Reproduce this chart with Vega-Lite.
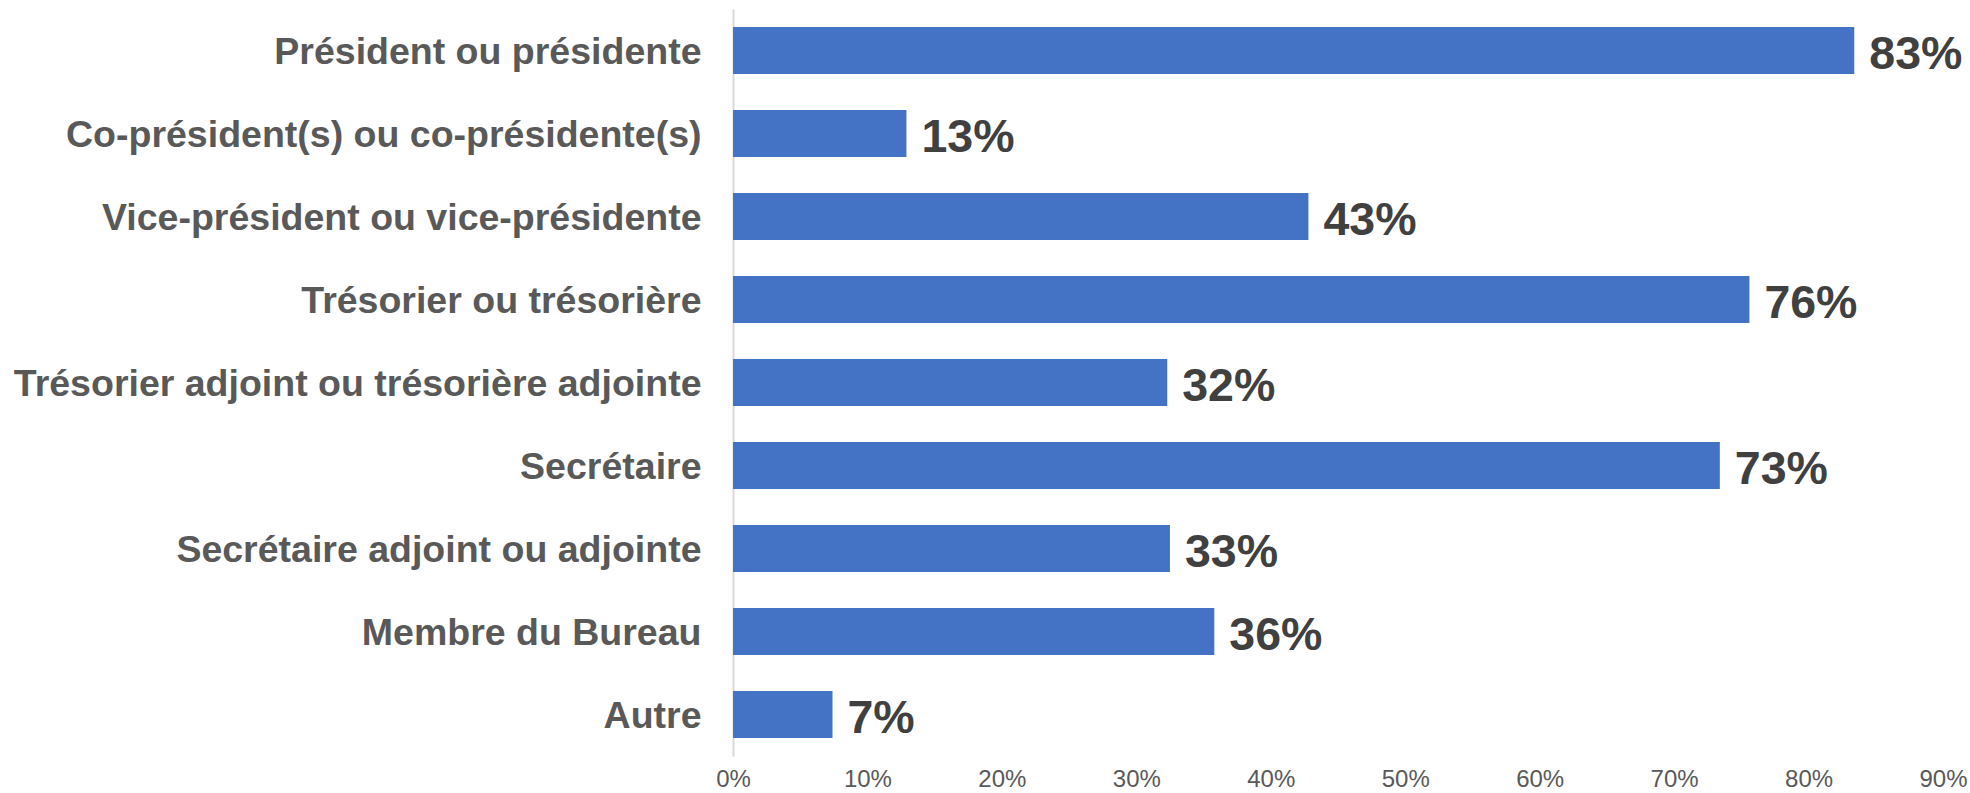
{
  "$schema": "https://vega.github.io/schema/vega-lite/v6.json",
  "width": 1210,
  "height": 747,
  "autosize": {"type": "none"},
  "padding": {"left": 733, "top": 9, "right": 27, "bottom": 37},
  "background": "white",
  "data": {
    "values": [
      {"role": "Président ou présidente", "value": 0.834, "label": "83%"},
      {"role": "Co-président(s) ou co-présidente(s)", "value": 0.129, "label": "13%"},
      {"role": "Vice-président ou vice-présidente", "value": 0.428, "label": "43%"},
      {"role": "Trésorier ou trésorière", "value": 0.756, "label": "76%"},
      {"role": "Trésorier adjoint ou trésorière adjointe", "value": 0.323, "label": "32%"},
      {"role": "Secrétaire", "value": 0.734, "label": "73%"},
      {"role": "Secrétaire adjoint ou adjointe", "value": 0.325, "label": "33%"},
      {"role": "Membre du Bureau", "value": 0.358, "label": "36%"},
      {"role": "Autre", "value": 0.074, "label": "7%"}
    ]
  },
  "config": {
    "view": {"stroke": null},
    "font": "Liberation Sans"
  },
  "encoding": {
    "y": {
      "field": "role",
      "type": "nominal",
      "sort": null,
      "scale": {"paddingInner": 0.434, "paddingOuter": 0.217},
      "axis": {
        "title": null,
        "domain": true,
        "domainColor": "#d9d9d9",
        "domainWidth": 2,
        "ticks": false,
        "labelFont": "Liberation Sans",
        "labelFontWeight": "bold",
        "labelFontSize": 37.5,
        "labelColor": "#595959",
        "labelPadding": 32,
        "labelOffset": 2,
        "labelLimit": 800
      }
    },
    "x": {
      "field": "value",
      "type": "quantitative",
      "scale": {"domain": [0, 0.9], "nice": false},
      "axis": {
        "title": null,
        "format": ".0%",
        "values": [0, 0.1, 0.2, 0.3, 0.4, 0.5, 0.6, 0.7, 0.8, 0.9],
        "grid": false,
        "domain": false,
        "ticks": false,
        "labelFont": "Liberation Sans",
        "labelFontSize": 24,
        "labelColor": "#595959",
        "labelPadding": 11,
        "labelFlush": false
      }
    }
  },
  "layer": [
    {"mark": {"type": "bar", "color": "#4472C4"}},
    {
      "mark": {
        "type": "text",
        "align": "left",
        "baseline": "middle",
        "dx": 15,
        "dy": 4,
        "font": "Liberation Sans",
        "fontWeight": "bold",
        "fontSize": 46.5,
        "color": "#404040"
      },
      "encoding": {"text": {"field": "label"}}
    }
  ]
}
